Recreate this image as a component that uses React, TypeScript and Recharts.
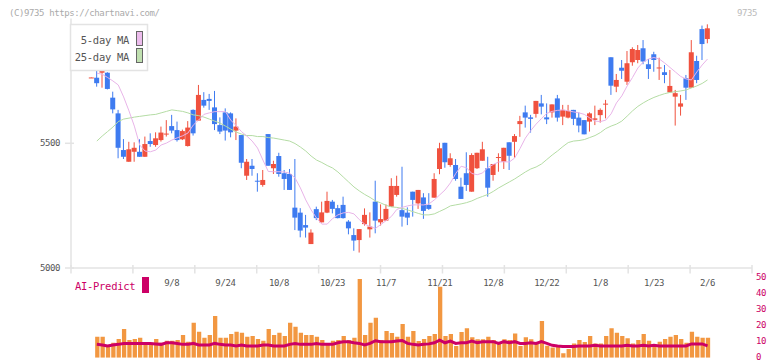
import React from "react";
import { ComposedChart, Bar, Line, XAxis, YAxis } from "recharts";

// date labels sit on every 10th trading day
const dateTicks = [15, 25, 35, 45, 55, 65, 75, 85, 95, 105, 115];
const dateLabels = ["9/8", "9/24", "10/8", "10/23", "11/7", "11/21", "12/8", "12/22", "1/8", "1/23", "2/6"];
const gridTicks = [0, 1, 2, 3, 4, 5, 6, 7, 8, 9, 10, 11];
const priceTicks = [5000, 5500];
const volumeTicks = [0, 10, 20, 30, 40, 50];

const opens = [
  5762, 5763, 5783, 5783, 5683, 5620, 5473, 5426, 5466, 5466,
  5446, 5509, 5493, 5513, 5535, 5569, 5553, 5516, 5489, 5634,
  5591, 5674, 5678, 5644, 5573, 5624, 5620, 5551, 5533, 5370,
  5410, 5350, 5333, 5537, 5400, 5449, 5380, 5377, 5242, 5222,
  5172, 5096, 5236, 5183, 5222, 5266, 5240, 5253, 5186, 5132,
  5112, 5176, 5155, 5266, 5183, 5190, 5246, 5293, 5232, 5222,
  5306, 5259, 5283, 5253, 5282, 5397, 5502, 5413, 5413, 5326,
  5380, 5306, 5400, 5430, 5400, 5373, 5443, 5426, 5504, 5506,
  5577, 5624, 5604, 5618, 5660, 5604, 5624, 5680, 5607, 5603,
  5634, 5603, 5593, 5587, 5594, 5613, 5657, 5845, 5727, 5803,
  5747, 5825, 5834, 5881, 5817, 5857, 5802, 5785, 5704, 5687,
  5647, 5761, 5723, 5830, 5958, 5918,
];
const highs = [
  5764, 5794, 5807, 5785, 5707, 5634, 5517, 5506, 5504, 5516,
  5527, 5540, 5544, 5567, 5593, 5614, 5587, 5555, 5589, 5636,
  5734, 5705, 5698, 5710, 5604, 5640, 5624, 5600, 5533, 5437,
  5437, 5380, 5393, 5537, 5430, 5462, 5393, 5397, 5437, 5240,
  5213, 5155, 5246, 5266, 5306, 5273, 5253, 5286, 5192, 5159,
  5156, 5239, 5223, 5350, 5255, 5255, 5360, 5370, 5406, 5243,
  5306, 5313, 5300, 5300, 5380, 5502, 5502, 5460, 5437, 5362,
  5464, 5460, 5462, 5506, 5446, 5417, 5460, 5482, 5504, 5537,
  5610, 5651, 5614, 5670, 5694, 5660, 5656, 5694, 5654, 5654,
  5634, 5624, 5593, 5624, 5651, 5640, 5674, 5845, 5778, 5834,
  5870, 5885, 5894, 5914, 5838, 5867, 5843, 5814, 5794, 5714,
  5694, 5774, 5914, 5851, 5972, 5977,
];
const lows = [
  5762, 5727, 5723, 5716, 5620, 5440, 5437, 5426, 5426, 5446,
  5446, 5486, 5486, 5507, 5527, 5540, 5507, 5513, 5487, 5531,
  5591, 5643, 5634, 5553, 5537, 5511, 5524, 5513, 5400, 5353,
  5370, 5306, 5326, 5410, 5377, 5366, 5313, 5313, 5152, 5123,
  5122, 5096, 5192, 5183, 5220, 5219, 5199, 5198, 5135, 5069,
  5062, 5170, 5122, 5139, 5170, 5190, 5246, 5286, 5166, 5172,
  5206, 5237, 5197, 5233, 5282, 5376, 5402, 5406, 5350, 5277,
  5309, 5306, 5397, 5430, 5286, 5350, 5386, 5397, 5393, 5442,
  5526, 5563, 5543, 5603, 5616, 5577, 5603, 5587, 5573, 5600,
  5573, 5544, 5536, 5547, 5573, 5583, 5600, 5694, 5705, 5758,
  5734, 5811, 5821, 5817, 5758, 5787, 5754, 5741, 5704, 5571,
  5611, 5674, 5723, 5741, 5834, 5901,
];
const closes = [
  5764, 5741, 5801, 5718, 5636, 5482, 5446, 5476, 5482, 5446,
  5497, 5497, 5520, 5543, 5539, 5551, 5513, 5549, 5563, 5540,
  5694, 5651, 5670, 5577, 5547, 5551, 5544, 5567, 5422, 5426,
  5397, 5348, 5353, 5410, 5417, 5377, 5357, 5313, 5202, 5150,
  5162, 5142, 5200, 5223, 5269, 5237, 5200, 5200, 5159, 5110,
  5156, 5213, 5166, 5190, 5196, 5237, 5329, 5329, 5206, 5202,
  5273, 5313, 5229, 5237, 5357, 5480, 5424, 5440, 5357, 5277,
  5333, 5453, 5462, 5476, 5322, 5417, 5445, 5482, 5450, 5529,
  5589, 5603, 5598, 5670, 5647, 5596, 5656, 5603, 5634, 5630,
  5598, 5571, 5536, 5620, 5600, 5634, 5659, 5731, 5754, 5791,
  5821, 5878, 5874, 5828, 5798, 5834, 5804, 5774, 5730, 5701,
  5660, 5723, 5865, 5754, 5898, 5961,
];
const ma5 = [
  null, 5781, 5777, 5764, 5750, 5734, 5686, 5630, 5569, 5493,
  5469, 5466, 5473, 5493, 5501, 5513, 5522, 5530, 5541, 5573,
  5593, 5616, 5622, 5627, 5627, 5627, 5593, 5571, 5547, 5529,
  5509, 5481, 5433, 5387, 5386, 5386, 5385, 5380, 5361, 5321,
  5273, 5233, 5201, 5176, 5176, 5198, 5213, 5221, 5223, 5217,
  5194, 5176, 5166, 5159, 5174, 5190, 5207, 5235, 5243, 5249,
  5253, 5253, 5253, 5257, 5273, 5293, 5313, 5341, 5379, 5408,
  5402, 5379, 5374, 5381, 5403, 5415, 5425, 5426, 5425, 5441,
  5479, 5521, 5551, 5577, 5599, 5620, 5628, 5632, 5634, 5630,
  5626, 5622, 5616, 5602, 5589, 5587, 5593, 5618, 5662, 5690,
  5730, 5764, 5802, 5826, 5838, 5844, 5838, 5822, 5804, 5786,
  5768, 5758, 5754, 5786, 5814, 5838,
];
const ma25 = [
  null, 5509, 5529, 5547, 5565, 5587, 5597, 5601, 5605, 5608,
  5611, 5614, 5616, 5622, 5628, 5634, 5631, 5628, 5622, 5614,
  5611, 5605, 5597, 5589, 5581, 5569, 5557, 5545, 5537, 5531,
  5531, 5527, 5527, 5523, 5521, 5517, 5513, 5509, 5499, 5485,
  5469, 5449, 5433, 5423, 5411, 5401, 5385, 5365, 5345, 5325,
  5309, 5295, 5283, 5269, 5261, 5251, 5245, 5243, 5239, 5233,
  5226, 5219, 5213, 5213, 5217, 5227, 5237, 5249, 5253, 5257,
  5262, 5269, 5279, 5287, 5295, 5307, 5321, 5333, 5345, 5357,
  5371, 5385, 5397, 5405, 5417, 5435, 5453, 5469, 5487, 5503,
  5509, 5511, 5515, 5523, 5531, 5543, 5559, 5569, 5577, 5589,
  5609, 5630, 5648, 5662, 5674, 5684, 5692, 5699, 5704, 5707,
  5710, 5714, 5722, 5730, 5740, 5754,
];
const volumes = [
  null, 13.2, 13.2, 8.0, 9.4, 11.8, 18.0, 11.1, 11.8, 12.6,
  9.4, 9.4, 11.8, 9.4, 10.7, 10.7, 11.1, 14.3, 10.1, 22.0,
  16.4, 12.6, 14.3, 26.2, 12.6, 12.6, 14.9, 16.4, 15.7, 13.2,
  13.6, 11.8, 10.7, 18.0, 14.3, 15.7, 13.6, 22.0, 19.5, 15.7,
  14.3, 14.3, 13.2, 11.1, 9.0, 10.7, 11.1, 13.6, 11.1, 12.6,
  49.5, 14.3, 22.0, 25.2, 11.1, 16.8, 15.5, 13.2, 21.2, 13.2,
  16.8, 10.5, 11.8, 13.6, 14.9, 44.7, 13.6, 14.9, 7.4, 16.2,
  18.5, 12.8, 11.6, 11.6, 13.2, 11.1, 9.0, 11.6, 11.1, 15.3,
  7.4, 12.8, 11.6, 9.0, 23.1, 7.6, 6.5, 6.9, 2.8, 5.5,
  9.0, 11.1, 9.9, 13.6, 9.0, 9.0, 13.6, 18.5, 15.7, 13.6,
  12.2, 9.0, 11.1, 14.9, 10.7, 7.6, 10.1, 11.8, 13.2, 14.3,
  11.8, 9.4, 16.4, 13.2, 12.6, 12.6,
];
const aiPredict = [
  null, 8.4, 8.0, 7.4, 8.0, 8.4, 9.0, 9.0, 9.0, 9.0,
  9.0, 9.0, 8.7, 8.4, 9.4, 9.4, 9.0, 8.4, 8.4, 9.0,
  8.0, 8.0, 8.0, 9.0, 8.4, 8.0, 8.0, 7.4, 8.0, 7.4,
  7.4, 7.4, 8.0, 8.0, 7.4, 7.4, 7.4, 8.4, 9.0, 8.4,
  8.4, 8.4, 9.0, 8.4, 8.4, 8.4, 9.4, 10.1, 10.1, 9.4,
  9.0, 8.0, 9.0, 10.7, 10.1, 10.1, 10.1, 10.5, 10.8, 9.0,
  8.4, 8.0, 8.4, 8.7, 9.4, 11.1, 9.4, 10.5, 9.0, 9.4,
  9.4, 10.5, 9.4, 10.1, 10.1, 10.1, 9.0, 10.1, 9.4, 10.1,
  9.0, 9.0, 9.4, 9.0, 10.1, 9.0, 7.8, 7.4, 7.1, 7.1,
  7.1, 7.4, 7.4, 7.4, 7.8, 7.4, 7.4, 7.4, 7.4, 7.4,
  7.8, 7.4, 7.4, 7.8, 7.4, 7.8, 7.4, 7.4, 7.4, 7.4,
  7.4, 7.4, 8.7, 8.7, 8.7, 7.4,
];

const rows = opens.map((open, i) => ({
  i,
  open,
  high: highs[i],
  low: lows[i],
  close: closes[i],
  range: [lows[i], highs[i]],
  ma5: ma5[i],
  ma25: ma25[i],
  vol: volumes[i],
  ai: aiPredict[i],
}));
const gridRows = gridTicks.map((g) => ({ g }));

const RED = "#f0513e";
const BLUE = "#3e7bf0";
const ORANGE = "#f29741";
const MAGENTA = "#cc0066";
const PINK = "#e8b4e8";
const GREEN = "#b4dca4";
const AXIS = "#e3e3e3";
const LABEL = "#555";
const MONO = "'DejaVu Sans Mono', monospace";
const X_PAD = { left: 17.8, right: 41.8 };
const MAIN_MARGIN = { top: 18.6, right: 20, bottom: 0, left: 21 };

function Candle(props: any) {
  const { x, y, width, height, payload } = props;
  if (x == null || !payload) return null;
  const top = Math.min(y, y + height);
  const h = Math.abs(height);
  const span = payload.high - payload.low;
  const toY = (v: number) => (span > 0 ? top + ((payload.high - v) / span) * h : top);
  const color = payload.close >= payload.open ? RED : BLUE;
  const cx = x + width / 2;
  const bodyTop = toY(Math.max(payload.open, payload.close));
  const bodyBottom = toY(Math.min(payload.open, payload.close));
  return (
    <g>
      <line x1={cx} x2={cx} y1={top} y2={top + h} stroke={color} strokeWidth={1} />
      <rect x={x} y={bodyTop} width={width} height={Math.max(1, bodyBottom - bodyTop)} fill={color} />
    </g>
  );
}

function DateTick({ x, y, payload }: any) {
  const label = dateLabels[dateTicks.indexOf(payload.value)];
  return (
    <text x={x} y={y + 18} textAnchor="middle" fontFamily={MONO} fontSize={9} letterSpacing={-0.4} fill={LABEL}>
      {label}
    </text>
  );
}

function GridTick({ x, y }: any) {
  return <line x1={x} x2={x} y1={y - 3} y2={y + 5.5} stroke={AXIS} strokeWidth={1.5} />;
}

function PriceTick({ x, y, payload }: any) {
  return (
    <g>
      <line x1={x - 6} x2={x + 3} y1={y} y2={y} stroke={AXIS} strokeWidth={1.5} />
      <text x={x - 11} y={y} textAnchor="end" dominantBaseline="central" fontFamily={MONO} fontSize={9} letterSpacing={-0.4} fill={LABEL}>
        {payload.value}
      </text>
    </g>
  );
}

function VolumeTick({ x, y, payload }: any) {
  return (
    <text x={x} y={y - 1} textAnchor="start" dominantBaseline="central" fontFamily={MONO} fontSize={9} letterSpacing={-0.4} fill={MAGENTA}>
      {payload.value}
    </text>
  );
}

export default function App() {
  return (
    <div style={{ position: "absolute", left: 0, top: 0, width: 772, height: 361, background: "#fff", overflow: "hidden" }}>
      <div style={{ position: "absolute", left: 0, top: 0 }}>
        <ComposedChart width={772} height={300} data={rows} margin={MAIN_MARGIN}>
          <XAxis
            dataKey="i"
            type="category"
            padding={X_PAD}
            ticks={dateTicks}
            interval={0}
            height={32}
            tickSize={0}
            tickMargin={0}
            tickLine={false}
            axisLine={{ stroke: AXIS, strokeWidth: 1.5 }}
            tick={<DateTick />}
          />
          <YAxis
            domain={[5000, 6000]}
            allowDataOverflow
            ticks={priceTicks}
            interval={0}
            width={50}
            tickSize={0}
            tickMargin={0}
            tickLine={false}
            axisLine={{ stroke: AXIS, strokeWidth: 1.5 }}
            tick={<PriceTick />}
          />
          <Line dataKey="ma25" type="linear" stroke={GREEN} strokeWidth={1} dot={false} isAnimationActive={false} />
          <Line dataKey="ma5" type="linear" stroke={PINK} strokeWidth={1} dot={false} isAnimationActive={false} />
          <Bar dataKey="range" barSize={5} shape={(p: any) => <Candle {...p} />} isAnimationActive={false} />
        </ComposedChart>
      </div>

      {/* short marks across the bottom axis, splitting it into 11 equal parts */}
      <div style={{ position: "absolute", left: 0, top: 0 }}>
        <ComposedChart width={772} height={300} data={gridRows} margin={{ ...MAIN_MARGIN, left: 71 }}>
          <XAxis
            dataKey="g"
            type="number"
            domain={[0, 11]}
            ticks={gridTicks}
            interval={0}
            height={32}
            tickSize={0}
            tickMargin={0}
            tickLine={false}
            axisLine={false}
            tick={<GridTick />}
          />
          <YAxis hide domain={[0, 1]} />
        </ComposedChart>
      </div>

      <div style={{ position: "absolute", left: 0, top: 270 }}>
        <ComposedChart width={772} height={91} data={rows} margin={{ top: 8.3, right: 0, bottom: 3.3, left: 71 }}>
          <XAxis dataKey="i" type="category" padding={X_PAD} hide />
          <YAxis
            orientation="right"
            domain={[0, 50]}
            allowDataOverflow
            ticks={volumeTicks}
            interval={0}
            width={20}
            tickSize={0}
            tickMargin={4}
            tickLine={false}
            axisLine={false}
            tick={<VolumeTick />}
          />
          <Bar dataKey="vol" fill={ORANGE} barSize={4.3} isAnimationActive={false} />
          <Line dataKey="ai" type="linear" stroke={MAGENTA} strokeWidth={3} dot={false} isAnimationActive={false} />
        </ComposedChart>
      </div>

      <svg width={772} height={361} style={{ position: "absolute", left: 0, top: 0, pointerEvents: "none" }}>
        <text x={9} y={16} fontFamily={MONO} fontSize={9} letterSpacing={-0.4} fill="#aaa">
          (C)9735 https://chartnavi.com/
        </text>
        <text x={757} y={16} textAnchor="end" fontFamily={MONO} fontSize={9} letterSpacing={-0.4} fill="#bbb">
          9735
        </text>

        <rect x={70.5} y={24.5} width={77} height={46} fill="#fff" stroke={AXIS} strokeWidth={1.5} />
        <text x={129} y={44} textAnchor="end" fontFamily={MONO} fontSize={10.5} letterSpacing={-0.3} fill={LABEL}>
          5-day MA
        </text>
        <text x={129} y={61} textAnchor="end" fontFamily={MONO} fontSize={10.5} letterSpacing={-0.3} fill={LABEL}>
          25-day MA
        </text>
        <rect x={136.5} y={31.5} width={6} height={14} fill="#ecbcec" stroke="#666" strokeWidth={1} />
        <rect x={136.5} y={48.5} width={6} height={14} fill="#c0e0b0" stroke="#666" strokeWidth={1} />

        <text x={75} y={290} fontFamily={MONO} fontSize={10.5} letterSpacing={-0.3} fill={MAGENTA}>
          AI-Predict
        </text>
        <rect x={142} y={277} width={7} height={16} fill={MAGENTA} />
      </svg>
    </div>
  );
}
